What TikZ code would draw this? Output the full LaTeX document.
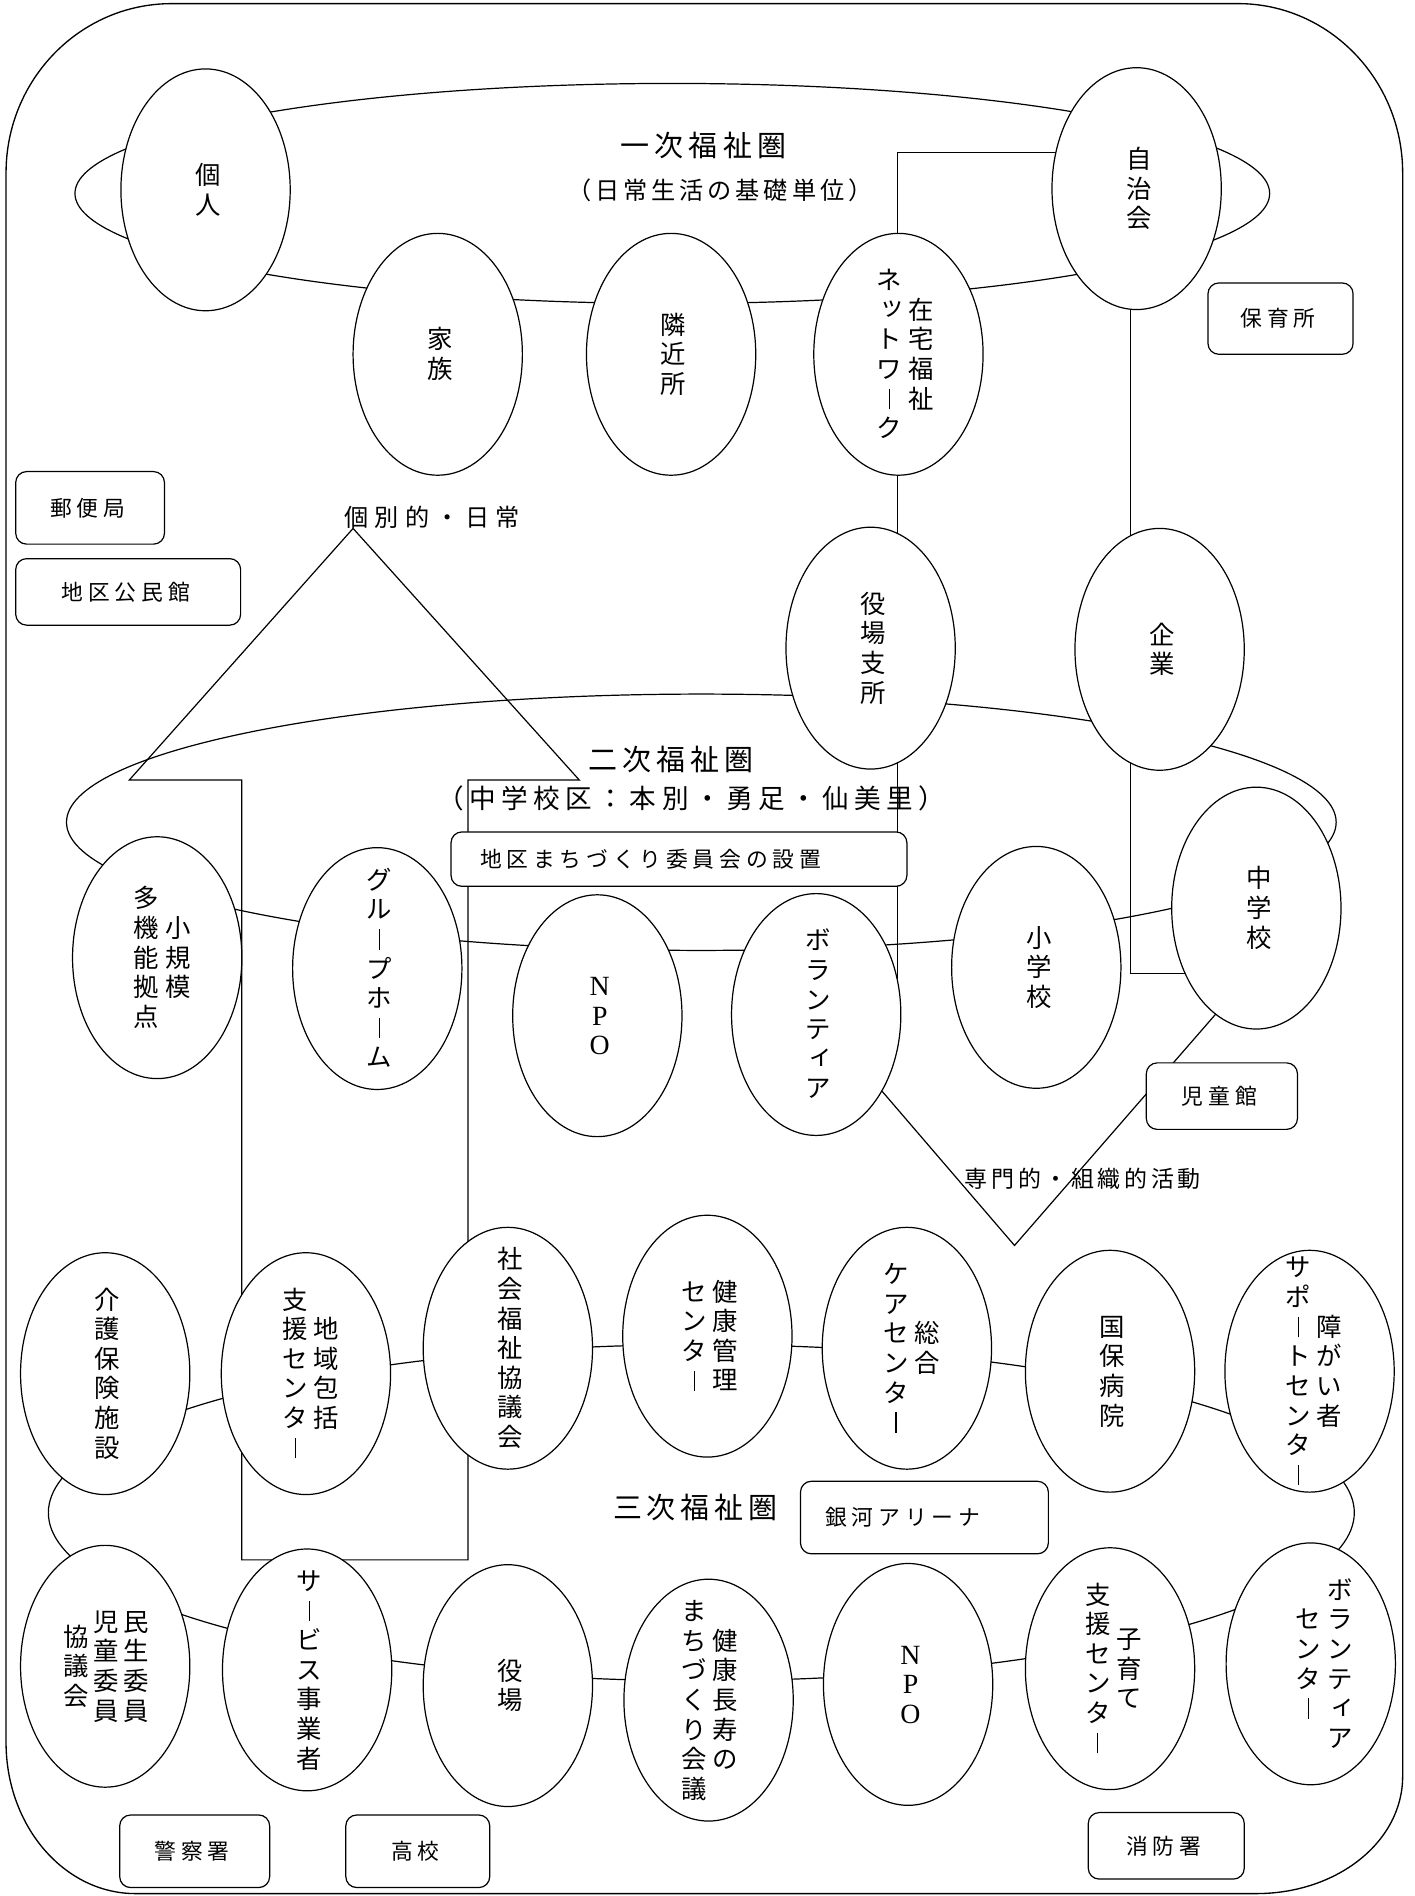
\documentclass[tikz,border=0pt]{standalone}
\usepackage{fontspec}
\usepackage{graphicx}
\usetikzlibrary{shapes.geometric,backgrounds}
\newfontfamily\jp{Noto Sans CJK JP}
\newfontfamily\serifl{Liberation Serif}
\newcommand\vb{\rule[-1pt]{0.9pt}{17pt}}
\newcommand\sk[1]{\hspace*{5pt}\raisebox{3pt}{#1}}
\newcommand\sktu{\sk{ッ}}
\newcommand\skii{\sk{ィ}}
\makeatletter
\def\vt@loop#1{\ifx\relax#1\else\hbox to 21pt{\hss#1\vrule height 17.5pt depth 2pt width 0pt\hss}\expandafter\vt@loop\fi}
\newcommand\vt[1]{\ensuremath{\vcenter{\baselineskip=24.5pt\lineskiplimit=-100pt\lineskip=0pt\vt@loop#1\relax}}}
\def\sp@loop#1{\ifx\relax#1\else#1\hspace{\sp@amt}\expandafter\sp@loop\fi}
\newcommand\spaced[2]{\def\sp@amt{#1}\sp@loop#2\relax\hspace{-#1}}
\makeatother
\newcommand\enode[4][]{\node[ell] (#2) at (#3) {};\node[lbl,#1] (#2-t) at (#2) {#4};}
\begin{document}
\begin{tikzpicture}[x=1pt,y=-1pt,line width=1pt,
  ell/.style={draw,ellipse,fill=white,line width=1pt,minimum width=140pt,minimum height=200pt,inner sep=0pt},
  lbl/.style={inner sep=0pt,xshift=2pt,font=\jp\fontsize{21}{24.5}\selectfont},
  lblrm/.style={font=\serifl\fontsize{23}{24.5}\selectfont},
  box/.style={draw,line width=1pt,rounded corners=9pt,fill=white,inner sep=0pt,font=\jp\fontsize{18}{20}\selectfont},
  title/.style={inner sep=0pt,font=\jp\fontsize{24}{28}\selectfont},
  conn/.style={line width=1pt}]
\useasboundingbox (0,0) rectangle (1170,1568);
% first circle
\enode{kojin}{170,157}{\vt{個人}}
\enode{kazoku}{362,293}{\vt{家族}}
\enode{kinjo}{555,293}{\vt{隣近所}}
\enode[xshift=3.5pt]{zaitaku}{743,293}{\vt{ネ\sktu トワ\vb ク}\hspace{5pt}\vt{在宅福祉}}
\enode{zichi}{940,156}{\vt{自治会}}
\enode{shisho}{720,536}{\vt{役場支所}}
\enode{kigyo}{959,537}{\vt{企業}}
% second circle
\enode[xshift=2pt]{takino}{130,792}{\vt{多機能拠点}\hspace{5pt}\vt{小規模}}
\enode{group}{312,801}{\vt{グル\vb プホ\vb ム}}
\enode[lblrm]{npoa}{494,840}{\vt{NPO}}
\enode{vol}{675,839}{\vt{ボランテ\skii ア}}
\enode{shogaku}{857,800}{\vt{小学校}}
\enode{chu}{1039,751}{\vt{中学校}}
% third circle, upper row
\enode{kaigo}{87,1136}{\vt{介護保険施設}}
\enode[xshift=2pt]{chiiki}{253,1136}{\vt{支援センタ\vb}\hspace{5pt}\vt{地域包括}}
\enode{shakyo}{420,1115}{\vt{社会福祉協議会}}
\enode{kenko}{585,1105}{\vt{センタ\vb}\hspace{5pt}\vt{健康管理}}
\enode[xshift=2pt]{sogo}{750,1115}{\vt{ケアセンタ\vb}\hspace{5pt}\vt{総合}}
\enode{kokuho}{918,1134}{\vt{国保病院}}
\enode[xshift=1.5pt]{shogai}{1083,1134}{\vt{サポ\vb トセンタ\vb}\hspace{5pt}\vt{障がい者}}
% third circle, lower row
\enode[xshift=-1pt]{minsei}{87,1378}{\vt{協議会}\hspace{4pt}\vt{児童委員}\hspace{4pt}\vt{民生委員}}
\enode{service}{254,1381}{\vt{サ\vb ビス事業者}}
\enode{yakuba}{420,1394}{\vt{役場}}
\enode[xshift=-1pt]{choju}{586,1406}{\vt{まちづくり会議}\hspace{5pt}\vt{健康長寿の}}
\enode[lblrm]{npob}{751,1393}{\vt{NPO}}
\enode[xshift=1pt]{kosodate}{918,1380}{\vt{支援センタ\vb}\hspace{5pt}\vt{子育て}}
\enode[xshift=9pt]{volc}{1084,1376}{\vt{センタ\vb}\hspace{5pt}\vt{ボランテ\skii ア}}
% boxes
\node[box,minimum width=120pt,minimum height=59pt] (hoiku) at (1059,263.5) {\spaced{4pt}{保育所}};
\node[box,minimum width=123pt,minimum height=60pt] (yubin) at (74.5,420) {\spaced{4pt}{郵便局}};
\node[box,minimum width=186pt,minimum height=55pt] (kominkan) at (106,489.5) {\spaced{4pt}{地区公民館}};
\node[box,minimum width=377pt,minimum height=45pt] (machi) at (561.5,710.5) {\spaced{4pt}{地区まちづくり委員会の設置}\hspace*{47pt}};
\node[box,minimum width=125pt,minimum height=55pt] (jido) at (1010.5,906.5) {\spaced{4pt}{児童館}};
\node[box,minimum width=205pt,minimum height=60pt] (ginga) at (764.5,1255) {\spaced{4pt}{銀河アリーナ}\hspace*{36pt}};
\node[box,minimum width=124pt,minimum height=60pt] (keisatsu) at (161,1531) {\spaced{4pt}{警察署}};
\node[box,minimum width=119pt,minimum height=60pt] (koko) at (345.5,1531) {\spaced{4pt}{高校}};
\node[box,minimum width=129pt,minimum height=55pt] (shobo) at (964.5,1526.5) {\spaced{4pt}{消防署}};
% titles
\node[title] (t1) at (584,120) {\spaced{4.5pt}{一次福祉圏}};
\node[title,font=\jp\fontsize{20}{24}\selectfont] (t1b) at (597,157) {\spaced{3.2pt}{（日常生活の基礎単位）}};
\node[title] (t2) at (557,628) {\spaced{4.2pt}{二次福祉圏}};
\node[title,font=\jp\fontsize{22}{26}\selectfont] (t2b) at (574,660) {\spaced{4.5pt}{（中学校区：本別・勇足・仙美里）}};
\node[title] (t3) at (577,1247) {\spaced{4pt}{三次福祉圏}};
\node[title,font=\jp\fontsize{20}{24}\selectfont] (up) at (360,428) {\spaced{5pt}{個別的・日常}};
\node[title,font=\jp\fontsize{19}{22}\selectfont] (down) at (897,975) {\spaced{3pt}{専門的・組織的活動}};
% background lines
\begin{scope}[on background layer,line width=1pt]
\fill[white] (0,0) rectangle (1170,1568);
\draw[line width=1.1pt] (5,143) .. controls (5,66) and (66,3) .. (142,3) -- (1024,3)
  .. controls (1099,3) and (1160,66) .. (1160,143) -- (1160,1469)
  .. controls (1160,1523) and (1106,1566) .. (1039,1566) -- (112,1566)
  .. controls (53,1566) and (5,1510) .. (5,1441) -- cycle;
\draw[conn] (556,160) ellipse [x radius=494, y radius=91];
\draw[conn] (580,680) ellipse [x radius=525, y radius=106];
\draw[conn] (580,1251) ellipse [x radius=540, y radius=139];
\coordinate (a1) at (292,437);
\coordinate (a2) at (479,645);
\coordinate (a3) at (387,645);
\coordinate (a4) at (387,1290);
\coordinate (a5) at (200,1290);
\coordinate (a6) at (200,645);
\coordinate (a7) at (107,645);
\draw[conn] (a1) -- (a2) -- (a3) -- (a4) -- (a5) -- (a6) -- (a7) -- cycle;
\coordinate (k1) at (742,126);
\draw[conn] (k1 -| zichi) -- (k1) -- (k1 |- vol);
\coordinate (k2) at (935,805);
\draw[conn] (k2 |- zichi) -- (k2) -- (k2 -| chu);
\coordinate (vtip) at (839,1030);
\coordinate (vend) at (1039,800);
\draw[conn] (vol) -- (vtip) -- (vend);
\end{scope}
\end{tikzpicture}
\end{document}
